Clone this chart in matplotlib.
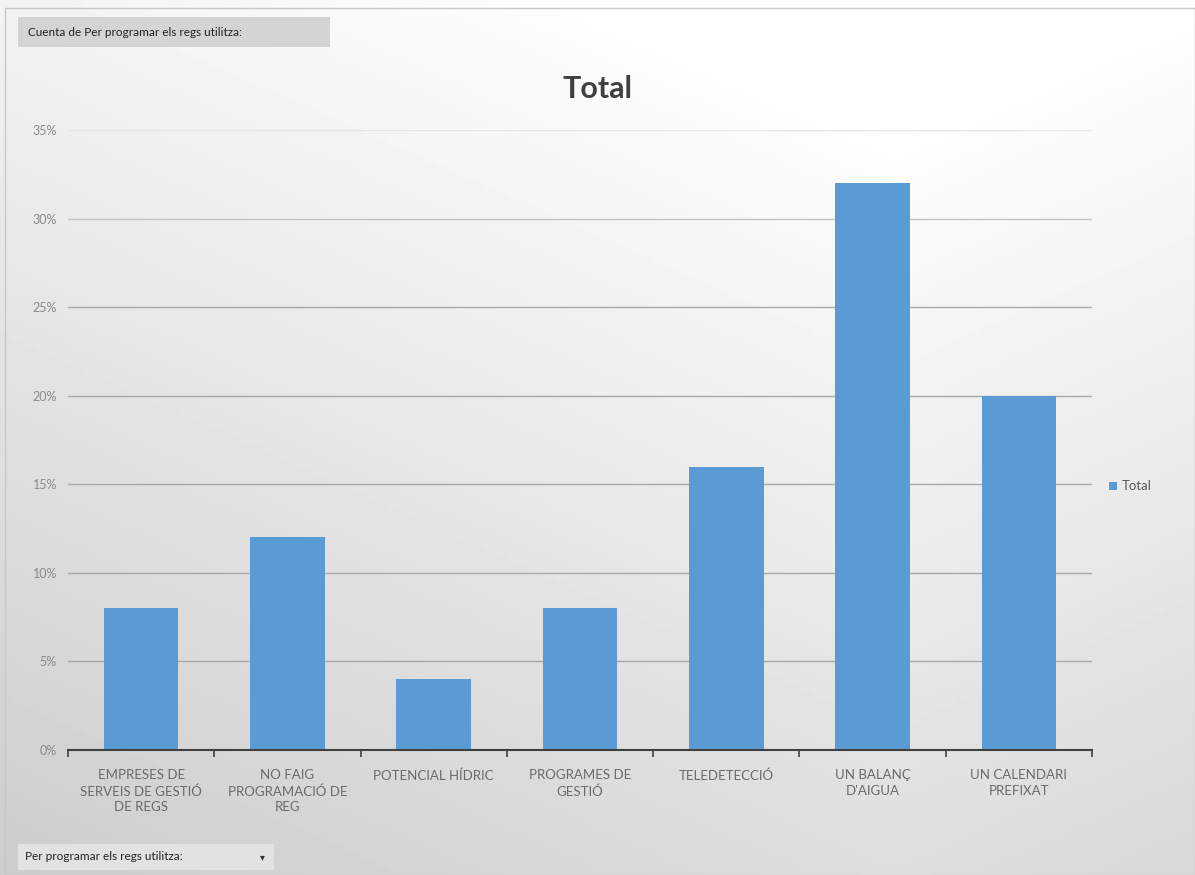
import numpy as np
import matplotlib
matplotlib.use("Agg")
from matplotlib import pyplot as plt
from matplotlib.patches import Rectangle

categories = ["EMPRESES DE\nSERVEIS DE GESTIÓ\nDE REGS",
              "NO FAIG\nPROGRAMACIÓ DE\nREG",
              "POTENCIAL HÍDRIC",
              "PROGRAMES DE\nGESTIÓ",
              "TELEDETECCIÓ",
              "UN BALANÇ\nD'AIGUA",
              "UN CALENDARI\nPREFIXAT"]
values = [8, 12, 4, 8, 16, 32, 20]
yticks = [0, 5, 10, 15, 20, 25, 30, 35]
ytick_labels = ["0%", "5%", "10%", "15%", "20%", "25%", "30%", "35%"]

plt.rcParams['font.family'] = ['Lato', 'DejaVu Sans']

fig = plt.figure(figsize=(11.95, 8.75), dpi=100)

# background gradient (light top-right, grey bottom-left)
bg = fig.add_axes([0, 0, 1, 1], zorder=-10)
yy, xx = np.mgrid[0:1:200j, 0:1:200j]
shade = 0.80 + 0.20 * np.clip(0.75 * yy + 0.35 * (1 - np.abs(xx - 0.75) * 1.3), 0, 1)
bg.imshow(shade, cmap="gray", vmin=0, vmax=1, origin="lower",
          extent=[0, 1, 0, 1], aspect="auto")
bg.set_xlim(0, 1)
bg.set_ylim(0, 1)
bg.axis("off")
bg.add_patch(Rectangle((5/1195, 0), 1 - 5/1195, 1 - 8/875, fill=False,
                       edgecolor="#c8c8c8", linewidth=1))

ax = fig.add_axes([68/1195, 1 - 750/875, 1024/1195, 620/875])
ax.set_facecolor("none")
x = np.arange(len(categories))
ax.bar(x, values, width=0.51, color="#5B9BD5", zorder=3, label="Total")

ax.set_xlim(-0.5, len(categories) - 0.5)
ax.set_ylim(0, 35)
ax.set_yticks(yticks)
ax.set_yticklabels(ytick_labels, color="#8a8a8a", fontsize=9)
ax.set_xticks(x)
ax.set_xticklabels(categories, color="#6a6a6a", fontsize=9.5, linespacing=1.35)
ax.set_xticks(np.arange(-0.5, len(categories)), minor=True)
ax.tick_params(axis="x", which="major", length=0, pad=14)
ax.tick_params(axis="x", which="minor", length=5, color="#404040", width=1.2)
ax.tick_params(axis="y", length=0, pad=8)
ax.grid(axis="y", color="#a8a8a8", linewidth=1, zorder=0)
gl = ax.get_ygridlines()
gl[-1].set_color("#e6e6e6")
gl[-2].set_color("#c4c4c4")
for s in ["top", "right", "left"]:
    ax.spines[s].set_visible(False)
ax.spines["bottom"].set_color("#404040")
ax.spines["bottom"].set_linewidth(1.5)
ax.spines["bottom"].set_zorder(4)

fig.text(598/1195, 1 - 89/875, "Total", ha="center", va="center",
         fontsize=22, fontweight="bold", color="#404040")

leg = ax.legend(loc="center left", bbox_to_anchor=(1.005, 0.425), frameon=False,
                fontsize=9.5, handlelength=0.6, handleheight=0.6, handletextpad=0.4)
for t in leg.get_texts():
    t.set_color("#5a5a5a")

# pivot field buttons
fig.patches.append(Rectangle((18/1195, 1 - 47/875), 312/1195, 30/875,
                             transform=fig.transFigure, facecolor="#d4d4d4",
                             edgecolor="none", zorder=1))
fig.text(28/1195, 1 - 32/875, "Cuenta de Per programar els regs utilitza:",
         ha="left", va="center", fontsize=8.5, color="#222222")
fig.patches.append(Rectangle((18/1195, 1 - 870/875), 256/1195, 26/875,
                             transform=fig.transFigure, facecolor="#e2e2e2",
                             edgecolor="none", zorder=1))
fig.text(25/1195, 1 - 857/875, "Per programar els regs utilitza:",
         ha="left", va="center", fontsize=8.5, color="#222222")
fig.text(262/1195, 1 - 857/875, "▾", ha="center", va="center",
         fontsize=7, color="#333333", family="DejaVu Sans")

fig.savefig("out.png", dpi=100)
